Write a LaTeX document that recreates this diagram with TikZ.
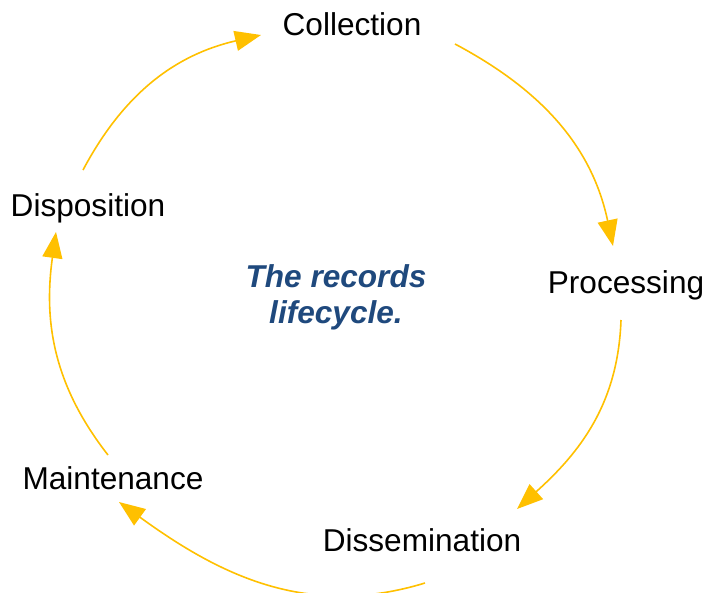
\documentclass[tikz,border=0pt]{standalone}
\usepackage{fontspec}
\setmainfont{Liberation Sans}
\usetikzlibrary{arrows.meta}
\definecolor{gold}{HTML}{FFC000}
\definecolor{navy}{HTML}{1F497D}
\begin{document}
\begin{tikzpicture}[x=1pt,y=-1pt,
  lbl/.style={anchor=base,inner sep=0pt,font=\fontsize{31.6}{36}\selectfont},
  cyc/.style={draw=gold,line width=1.6pt,-{Triangle[length=26pt,width=20pt]}}]
\useasboundingbox (0,0) rectangle (706,592);
\node[lbl] (coll) at (352,35) {Collection};
\node[lbl] (proc) at (626,293) {Processing};
\node[lbl] (diss) at (422,551) {Dissemination};
\node[lbl] (main) at (113,489) {Maintenance};
\node[lbl] (disp) at (88,216) {Disposition};
\node[lbl,text=navy,align=center,font=\fontsize{31.6}{36}\selectfont\bfseries\itshape] (title) at (336,323) {The records\\lifecycle.};
\coordinate (a1) at (455,44);  \coordinate (b1) at (613,246);
\coordinate (a2) at (621,320); \coordinate (b2) at (517,509);
\coordinate (a3) at (425,583); \coordinate (b3) at (119,502);
\coordinate (a4) at (108,455); \coordinate (b4) at (56,232);
\coordinate (a5) at (83,170);  \coordinate (b5) at (261,35);
\draw[cyc] (a1) to[out=-28,in=102] (b1);
\draw[cyc] (a2) to[out=-92,in=42] (b2);
\draw[cyc] (a3) to[out=197,in=-36] (b3);
\draw[cyc] (a4) to[out=128,in=-98] (b4);
\draw[cyc] (a5) to[out=62,in=193] (b5);
\end{tikzpicture}
\end{document}
